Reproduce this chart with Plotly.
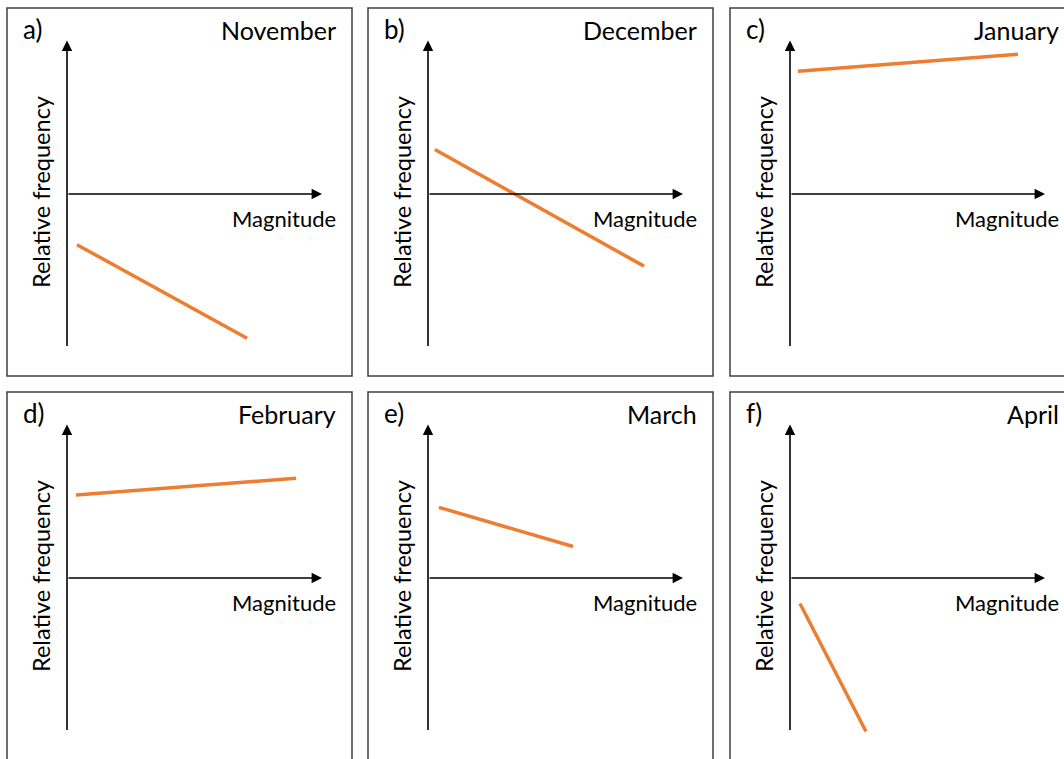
import plotly.graph_objects as go

# Sketch values: each orange line runs from (mag_start, freq_start) to (mag_end, freq_end).
# Magnitude 0..1 spans the x-axis arrow; relative frequency -1..1 spans the y-axis arrow.
months = ["November", "December", "January", "February", "March", "April"]
letters = ["a)", "b)", "c)", "d)", "e)", "f)"]
mag_start = [0.039, 0.027, 0.031, 0.035, 0.043, 0.039]
mag_end = [0.706, 0.847, 0.894, 0.898, 0.569, 0.298]
freq_start = [-0.33, 0.29, 0.80, 0.54, 0.46, -0.166]
freq_end = [-0.94, -0.47, 0.91, 0.65, 0.205, -1.0]

W, H = 1064, 759
FONT = "Lato"
ORANGE = "#ED7D31"

col_left = [7, 368, 730]
row_top = [8, 392]
BOX_W, BOX_H = 345, 368
OFF_X, OFF_Y = 60, 186          # axis origin inside each box
SX, SY = 255.0, 153.5           # pixels per data unit


def px(x):
    return x / W


def py(y):
    return 1 - y / H


fig = go.Figure()
layout = dict(
    width=W, height=H, margin=dict(l=0, r=0, t=0, b=0),
    paper_bgcolor="white", plot_bgcolor="rgba(0,0,0,0)",
    showlegend=False, shapes=[], annotations=[],
)

for i in range(6):
    r, c = divmod(i, 3)
    L, T = col_left[c], row_top[r]
    R, B = min(L + BOX_W, W), min(T + BOX_H, H)
    ox, oy = L + OFF_X, T + OFF_Y
    n = "" if i == 0 else str(i + 1)
    xa, ya = "x" + n, "y" + n

    layout["xaxis" + n] = dict(
        domain=[px(L), px(R)], range=[(L - ox) / SX, (R - ox) / SX],
        visible=False, fixedrange=True, anchor=ya,
    )
    layout["yaxis" + n] = dict(
        domain=[py(B), py(T)], range=[(oy - B) / SY, (oy - T) / SY],
        visible=False, fixedrange=True, anchor=xa,
    )

    fig.add_trace(go.Scatter(
        x=[mag_start[i], mag_end[i]], y=[freq_start[i], freq_end[i]],
        mode="lines", line=dict(color=ORANGE, width=3.5),
        xaxis=xa, yaxis=ya, hoverinfo="skip",
    ))

    # panel frame
    layout["shapes"].append(dict(
        type="rect", xref="paper", yref="paper",
        x0=px(L), x1=px(L + BOX_W), y0=py(T + BOX_H), y1=py(T),
        line=dict(color="#404040", width=1.5), fillcolor="rgba(0,0,0,0)",
        layer="below",
    ))

    arrow = dict(text="", showarrow=True, arrowhead=2, arrowsize=1.3,
                 arrowwidth=1.6, arrowcolor="black", standoff=0,
                 xref=xa, yref=ya, axref=xa, ayref=ya)
    # vertical axis (relative frequency)
    layout["annotations"].append(dict(arrow, x=0, y=1, ax=0, ay=-1))
    # horizontal axis (magnitude)
    layout["annotations"].append(dict(arrow, x=1, y=0, ax=0, ay=0))

    txt = dict(showarrow=False, xref="paper", yref="paper")
    layout["annotations"].append(dict(
        txt, text=letters[i], x=px(L + 14), y=py(T + 21),
        xanchor="left", yanchor="middle",
        font=dict(family=FONT, size=26, color="black")))
    layout["annotations"].append(dict(
        txt, text=months[i], x=px(ox + 271), y=py(T + 22),
        xanchor="right", yanchor="middle",
        font=dict(family=FONT, size=25, color="black")))
    layout["annotations"].append(dict(
        txt, text="Magnitude", x=px(ox + 271), y=py(oy + 24),
        xanchor="right", yanchor="middle",
        font=dict(family=FONT, size=22, color="black")))
    layout["annotations"].append(dict(
        txt, text="Relative frequency", x=px(L + 34), y=py(oy - 2),
        xanchor="center", yanchor="middle", textangle=-90,
        font=dict(family=FONT, size=23.5, color="black")))

fig.update_layout(**layout)
fig.write_html("out.html")
